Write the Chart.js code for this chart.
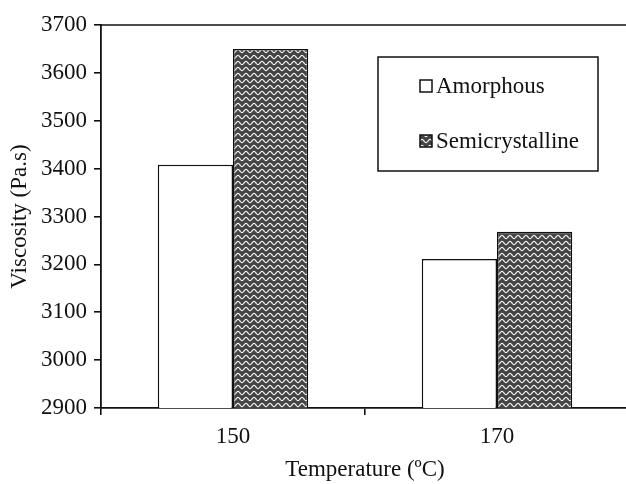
<!DOCTYPE html>
<html lang="en">
  <head>
    <meta charset="UTF-8" />
    <title>Viscosity</title>
    <script src="https://cdn.jsdelivr.net/npm/chart.js@4.4.1/dist/chart.umd.min.js"></script>
    <style>
      body { margin: 0; overflow: hidden; background: #fff; }
    </style>
  </head>
  <body>
    <canvas id="myChart" width="630" height="484"></canvas>
    <script>
      // data
      const temps = ["150", "170"];
      const amorphous = [3408, 3211];
      const semicrystalline = [3650, 3268];
      const seriesNames = ["Amorphous", "Semicrystalline"];
      const yMin = 2900, yMax = 3700, yStep = 100;

      const FONT = "'Liberation Serif', 'Times New Roman', serif";
      const ctx = document.getElementById("myChart").getContext("2d");

      // wavy hatch like the printed figure
      function wavePattern() {
        const c = document.createElement("canvas");
        c.width = 8; c.height = 6;
        const g = c.getContext("2d");
        g.fillStyle = "#444";
        g.fillRect(0, 0, 8, 6);
        g.strokeStyle = "#f2f2f2";
        g.lineWidth = 1.2;
        g.beginPath();
        for (let x = -1; x <= 9; x += 0.5) {
          const y = 3 + 1.6 * Math.sin((x / 8) * 2 * Math.PI);
          if (x === -1) g.moveTo(x, y); else g.lineTo(x, y);
        }
        g.stroke();
        return ctx.createPattern(c, "repeat");
      }
      const wave = wavePattern();

      // top frame line + boxed legend inside plot
      const extras = {
        id: "extras",
        afterDraw(chart) {
          const c = chart.ctx, a = chart.chartArea;
          c.save();
          c.strokeStyle = "#111";
          c.lineWidth = 1.6;
          c.beginPath();
          c.moveTo(a.left, a.top);
          c.lineTo(a.right, a.top);
          c.stroke();

          // legend box
          c.lineWidth = 1.5;
          c.strokeRect(378, 57, 220, 114);
          c.font = "23px " + FONT;
          c.textBaseline = "middle";
          chart.data.datasets.forEach(function (ds, i) {
            const y = 86 + i * 55;
            c.fillStyle = ds.backgroundColor;
            c.fillRect(420, y - 6, 12, 12);
            c.strokeStyle = "#111";
            c.lineWidth = 1.5;
            c.strokeRect(420, y - 6, 12, 12);
            c.fillStyle = "#111";
            c.fillText(ds.label, 436, y + 1);
          });
          c.restore();
        },
      };

      const myChart = new Chart(ctx, {
        type: "bar",
        data: {
          labels: temps,
          datasets: [
            {
              label: seriesNames[0],
              data: amorphous,
              backgroundColor: "#ffffff",
              borderColor: "#111",
              borderWidth: 1.5,
            },
            {
              label: seriesNames[1],
              data: semicrystalline,
              backgroundColor: wave,
              borderColor: "#111",
              borderWidth: 1.5,
            },
          ],
        },
        options: {
          responsive: false,
          animation: false,
          devicePixelRatio: 1,
          layout: { padding: { top: 25, right: 1, left: 0, bottom: 0 } },
          categoryPercentage: 0.57,
          barPercentage: 1.0,
          plugins: { legend: { display: false }, tooltip: { enabled: false } },
          scales: {
            x: {
              grid: { drawOnChartArea: false, drawTicks: true, tickLength: 7, color: "#111", lineWidth: 1.6, offset: true },
              border: { display: true, color: "#111", width: 1.8 },
              ticks: { color: "#111", font: { family: FONT, size: 23 }, padding: 8 },
              title: { display: true, text: "Temperature (ºC)", color: "#111", font: { family: FONT, size: 23 }, padding: { top: 2, bottom: 0 } },
              afterFit(scale) { scale.height = 76; },
            },
            y: {
              min: yMin,
              max: yMax,
              grid: { drawOnChartArea: false, drawTicks: true, tickLength: 7, color: "#111", lineWidth: 1.6 },
              border: { display: true, color: "#111", width: 1.8 },
              ticks: {
                stepSize: yStep,
                color: "#111",
                font: { family: FONT, size: 23 },
                padding: 7,
                callback: function (v) { return String(v); },
              },
              title: { display: true, text: "Viscosity (Pa.s)", color: "#111", font: { family: FONT, size: 23 }, padding: { top: 6, bottom: 0 } },
              afterFit(scale) { scale.width = 101; },
            },
          },
        },
        plugins: [extras],
      });
    </script>
  </body>
</html>
